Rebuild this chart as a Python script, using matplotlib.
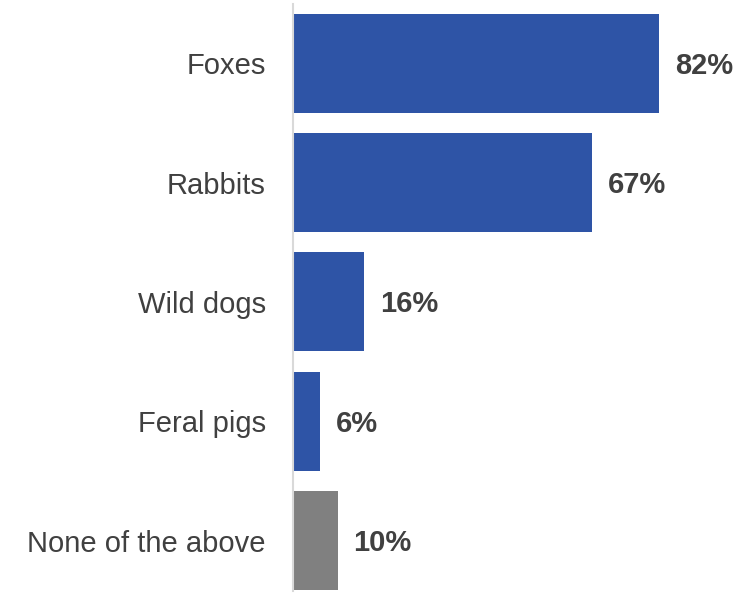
import matplotlib.pyplot as plt

plt.rcParams['font.family'] = ['Liberation Sans', 'DejaVu Sans']

# Data
categories = ["Foxes", "Rabbits", "Wild dogs", "Feral pigs", "None of the above"]
values = [82, 67, 16, 6, 10]
bar_colors = ["#2e54a6", "#2e54a6", "#2e54a6", "#2e54a6", "#808080"]

fig = plt.figure(figsize=(7.51, 5.93), dpi=100)
ax = fig.add_axes([293 / 751, 0.0, 1 - 293 / 751, 1.0])

ypos = list(range(len(categories)))
ax.barh(ypos, values, height=0.83, color=bar_colors)

# value labels
for y, v in zip(ypos, values):
    ax.text(v + 3.5, y + 0.02, f"{v}%", va="center", ha="left",
            fontsize=21, fontweight="bold", color="#404040")

ax.set_xlim(0, 102.5)
ax.set_ylim(4.44, -0.53)
ax.set_yticks(ypos)
ax.set_yticklabels(categories, fontsize=21, color="#404040")
ax.tick_params(axis="y", length=0, pad=19.5)
ax.set_xticks([])

for side in ["top", "right", "bottom"]:
    ax.spines[side].set_visible(False)
ax.spines["left"].set_color("#d9d9d9")
ax.spines["left"].set_linewidth(1.5)
ax.spines["left"].set_bounds(4.42, -0.5)

fig.savefig("out.png", dpi=100)
